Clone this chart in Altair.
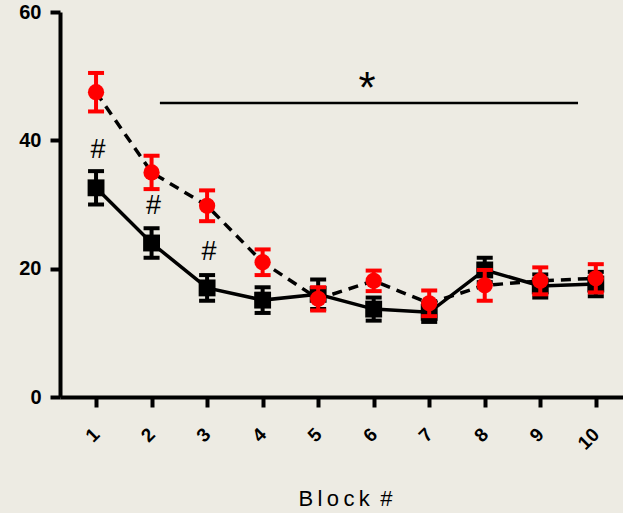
import altair as alt
import pandas as pd

# Block numbers and group means / SEM
blocks = [1, 2, 3, 4, 5, 6, 7, 8, 9, 10]
black_mean = [32.6, 24.0, 17.0, 15.1, 16.0, 13.7, 13.2, 19.8, 17.3, 17.6]
black_sem = [2.6, 2.3, 2.0, 2.0, 2.3, 1.8, 1.5, 1.9, 1.8, 1.9]
red_mean = [47.5, 35.0, 29.8, 21.0, 15.3, 18.1, 14.6, 17.4, 18.1, 18.5]
red_sem = [3.0, 2.6, 2.4, 2.0, 1.8, 1.6, 2.0, 2.4, 2.1, 2.2]

# Annotations
hash_x = [1, 2, 3]
hash_y = [38.5, 29.8, 22.6]
sig_x = [2.15]
sig_x2 = [9.68]
sig_y = [45.8]
star_x = [5.88]

# Axis title, letter-spaced with thin spaces
x_title = "\u2009".join("Block") + " \u2009#"

BG = "#EDEBE3"
RED = "#FF0000"

def frame(mean, sem):
    return pd.DataFrame({
        "block": blocks,
        "mean": mean,
        "lo": [m - s for m, s in zip(mean, sem)],
        "hi": [m + s for m, s in zip(mean, sem)],
    })

black = frame(black_mean, black_sem)
red = frame(red_mean, red_sem)

x_scale = alt.Scale(domain=[0.351, 10.49], nice=False, zero=False)
y_scale = alt.Scale(domain=[0, 60], nice=False)

x_enc = alt.X(
    "block:Q", scale=x_scale,
    axis=alt.Axis(
        values=blocks, format="d", title=x_title, labelAngle=315, labelAlign="right",
        labelBaseline="middle", labelPadding=24, labelFontSize=19,
        labelFontWeight="bold", labelFont="Liberation Sans", labelColor="black",
        tickSize=10, tickWidth=4, tickColor="black",
        domainWidth=4, domainColor="black", grid=False,
        titleFont="Liberation Sans", titleFontSize=22, titleFontWeight="normal",
        titleColor="black", titleBaseline="alphabetic", titleY=108, titleX=285,
    ),
)
y_enc = alt.Y(
    "mean:Q", scale=y_scale,
    axis=alt.Axis(
        values=[0, 20, 40, 60], title=None, labelFontSize=20,
        labelFontWeight="bold", labelFont="Liberation Sans", labelColor="black",
        labelPadding=9, tickSize=10, tickWidth=4, tickColor="black",
        domainWidth=4, domainColor="black", grid=False,
    ),
)


def series(df, color, shape, size, dash):
    base = alt.Chart(df)
    line_kw = dict(color="black", strokeWidth=3.5)
    if dash:
        line_kw["strokeDash"] = dash
    line = base.mark_line(**line_kw).encode(x=x_enc, y=y_enc)
    bars = base.mark_rule(color=color, strokeWidth=4, opacity=1).encode(
        x="block:Q", y="lo:Q", y2="hi:Q")
    cap_hi = base.mark_tick(color=color, orient="horizontal", size=16,
                            thickness=4, opacity=1).encode(x="block:Q", y="hi:Q")
    cap_lo = base.mark_tick(color=color, orient="horizontal", size=16,
                            thickness=4, opacity=1).encode(x="block:Q", y="lo:Q")
    pts = base.mark_point(shape=shape, size=size, filled=True, color=color,
                          opacity=1).encode(x="block:Q", y="mean:Q")
    return [line, bars, cap_hi, cap_lo, pts]


layers = series(black, "black", "square", 285, None) + \
    series(red, RED, "circle", 265, [10, 7])

sig = alt.Chart(pd.DataFrame({"x": sig_x, "x2": sig_x2, "y": sig_y})).mark_rule(
    color="black", strokeWidth=2.5).encode(x="x:Q", x2="x2:Q", y="y:Q")
star = alt.Chart(pd.DataFrame({"x": star_x, "y": sig_y, "t": ["*"]})).mark_text(
    font="Liberation Sans", fontSize=44, baseline="alphabetic", color="black"
).encode(x="x:Q", y="y:Q", text="t:N")
hashes = alt.Chart(pd.DataFrame({"x": hash_x, "y": hash_y, "t": ["#"] * 3})).mark_text(
    font="Liberation Sans", fontSize=27, baseline="middle", color="black", dx=2
).encode(x="x:Q", y="y:Q", text="t:N")

chart = alt.layer(*layers, sig, star, hashes).properties(
    width=563, height=385, background=BG,
    padding={"left": 60, "top": 12, "right": 0, "bottom": 116},
    autosize=alt.AutoSizeParams(type="none"),
).configure_view(stroke=None)

chart.save("out.html", embed_options={"renderer": "svg", "actions": False})
